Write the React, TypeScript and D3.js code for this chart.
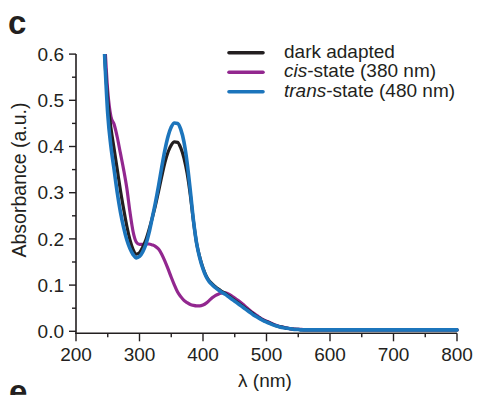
import React from "react";
import * as d3 from "d3";

const wavelengths = [
  240, 245, 250, 255, 260, 265, 270, 275, 280, 285, 290, 295, 300, 305, 310, 315, 320, 325, 330, 335,
  340, 345, 350, 355, 360, 365, 370, 375, 380, 385, 390, 395, 400, 405, 410, 415, 420, 425, 430, 435,
  440, 445, 450, 455, 460, 465, 470, 475, 480, 485, 490, 495, 500, 505, 510, 515, 520, 525, 530, 535,
  540, 545, 550, 555, 560, 600, 650, 700, 750, 800,
];

const darkAdapted = [
  0.76, 0.6, 0.5, 0.44, 0.395, 0.35, 0.305, 0.265, 0.228, 0.198, 0.177, 0.167, 0.17, 0.182, 0.198, 0.22, 0.245, 0.272, 0.303, 0.335,
  0.365, 0.388, 0.403, 0.41, 0.409, 0.397, 0.375, 0.342, 0.295, 0.238, 0.19, 0.16, 0.137, 0.12, 0.109, 0.102, 0.096, 0.091, 0.086, 0.082,
  0.077, 0.072, 0.067, 0.062, 0.057, 0.052, 0.047, 0.042, 0.037, 0.032, 0.028, 0.024, 0.021, 0.018, 0.015, 0.012, 0.01, 0.009, 0.007, 0.006,
  0.005, 0.004, 0.004, 0.003, 0.003, 0.003, 0.003, 0.003, 0.003, 0.003,
];

const cisState = [
  0.74, 0.63, 0.52, 0.465, 0.448, 0.42, 0.385, 0.35, 0.31, 0.258, 0.215, 0.193, 0.188, 0.188, 0.189, 0.189, 0.187, 0.184, 0.178, 0.167,
  0.152, 0.135, 0.117, 0.1, 0.085, 0.075, 0.067, 0.062, 0.058, 0.056, 0.055, 0.055, 0.057, 0.061, 0.067, 0.073, 0.078, 0.081, 0.083, 0.083,
  0.081, 0.077, 0.072, 0.067, 0.062, 0.056, 0.05, 0.044, 0.039, 0.034, 0.029, 0.025, 0.022, 0.019, 0.016, 0.013, 0.011, 0.009, 0.008, 0.006,
  0.005, 0.005, 0.004, 0.004, 0.003, 0.003, 0.003, 0.003, 0.003, 0.003,
];

const transState = [
  0.76, 0.6, 0.47, 0.4, 0.35, 0.3, 0.258, 0.225, 0.198, 0.179, 0.166, 0.159, 0.162, 0.172, 0.188, 0.213, 0.245, 0.278, 0.315, 0.355,
  0.392, 0.422, 0.442, 0.451, 0.45, 0.437, 0.41, 0.365, 0.305, 0.24, 0.19, 0.158, 0.135, 0.118, 0.107, 0.1, 0.094, 0.089, 0.084, 0.08,
  0.075, 0.07, 0.065, 0.06, 0.055, 0.05, 0.045, 0.04, 0.035, 0.031, 0.027, 0.023, 0.02, 0.017, 0.014, 0.012, 0.01, 0.008, 0.007, 0.006,
  0.005, 0.004, 0.004, 0.003, 0.003, 0.003, 0.003, 0.003, 0.003, 0.003,
];

const xTicks = [200, 300, 400, 500, 600, 700, 800];
const xMinorTicks = [250, 350, 450, 550, 650, 750];
const yTicks = [0, 0.1, 0.2, 0.3, 0.4, 0.5, 0.6];
const yMinorTicks = [0.05, 0.15, 0.25, 0.35, 0.45, 0.55];

const seriesNames = ["cis", "dark", "trans"];
const colors: Record<string, string> = { dark: "#231f20", cis: "#92278f", trans: "#1c75bc" };
const widths: Record<string, number> = { dark: 3.2, cis: 3.2, trans: 3.6 };

const FONT = "'Liberation Sans', Arial, Helvetica, sans-serif";

export default function App() {
  const x = d3.scaleLinear().domain([200, 800]).range([76, 457]);
  const y = d3.scaleLinear().domain([0, 0.6]).range([331.3, 54.1]);
  const axisY = 333.3;
  const axisColor = "#231f20";

  const dataMap: Record<string, number[]> = { dark: darkAdapted, cis: cisState, trans: transState };
  const line = d3
    .line<number>()
    .x((_, i) => x(wavelengths[i]))
    .y((d) => y(d))
    .curve(d3.curveMonotoneX);

  const legend = [
    { key: "dark", ital: "", rest: "dark adapted" },
    { key: "cis", ital: "cis", rest: "-state (380 nm)" },
    { key: "trans", ital: "trans", rest: "-state (480 nm)" },
  ];
  const legendY = [52.7, 72.3, 91.7];

  return (
    <svg
      width={477}
      height={395}
      style={{ position: "absolute", left: 0, top: 0, background: "#fff" }}
      fontFamily={FONT}
    >
      <defs>
        <clipPath id="plotclip">
          <rect x={76} y={54} width={384} height={282} />
        </clipPath>
      </defs>
      <text x={8} y={34} fontSize={33} fontWeight="bold" fill="#231f20">c</text>
      <text x={9} y={403} fontSize={33} fontWeight="bold" fill="#231f20">e</text>

      <g clipPath="url(#plotclip)">
        {seriesNames.map((k) => (
          <path
            key={k}
            d={line(dataMap[k]) || ""}
            fill="none"
            stroke={colors[k]}
            strokeWidth={widths[k]}
            strokeLinejoin="round"
            strokeLinecap="round"
          />
        ))}
      </g>

      {/* y axis */}
      <line x1={76} x2={76} y1={y(0.6)} y2={axisY + 0.8} stroke={axisColor} strokeWidth={1.6} />
      {yTicks.map((t) => (
        <g key={"yt" + t}>
          <line x1={69} x2={76} y1={y(t)} y2={y(t)} stroke={axisColor} strokeWidth={1.4} />
          <text x={64} y={y(t)} dy="0.35em" textAnchor="end" fontSize={19} fill="#231f20">
            {t.toFixed(1)}
          </text>
        </g>
      ))}
      {yMinorTicks.map((t) => (
        <line key={"ym" + t} x1={72} x2={76} y1={y(t)} y2={y(t)} stroke={axisColor} strokeWidth={1.4} />
      ))}

      {/* x axis */}
      <line x1={75.2} x2={457} y1={axisY} y2={axisY} stroke={axisColor} strokeWidth={1.6} />
      {xTicks.map((t) => (
        <g key={"xt" + t}>
          <line x1={x(t)} x2={x(t)} y1={axisY} y2={axisY + 8} stroke={axisColor} strokeWidth={1.4} />
          <text x={x(t)} y={361} textAnchor="middle" fontSize={19} fill="#231f20">
            {t}
          </text>
        </g>
      ))}
      {xMinorTicks.map((t) => (
        <line key={"xm" + t} x1={x(t)} x2={x(t)} y1={axisY} y2={axisY + 4} stroke={axisColor} strokeWidth={1.4} />
      ))}

      <text x={265} y={387} textAnchor="middle" fontSize={19} fill="#231f20">λ (nm)</text>
      <text
        transform="translate(26,180) rotate(-90)"
        textAnchor="middle"
        fontSize={19.5}
        fill="#231f20"
      >
        Absorbance (a.u.)
      </text>

      {/* legend */}
      {legend.map((l, i) => (
        <g key={l.key}>
          <line x1={229} x2={263} y1={legendY[i]} y2={legendY[i]} stroke={colors[l.key]} strokeWidth={3.6} strokeLinecap="round" />
          <text x={284} y={legendY[i] + 5} fontSize={19} fill="#231f20">
            {l.ital ? <tspan fontStyle="italic">{l.ital}</tspan> : null}
            <tspan>{l.rest}</tspan>
          </text>
        </g>
      ))}
    </svg>
  );
}
